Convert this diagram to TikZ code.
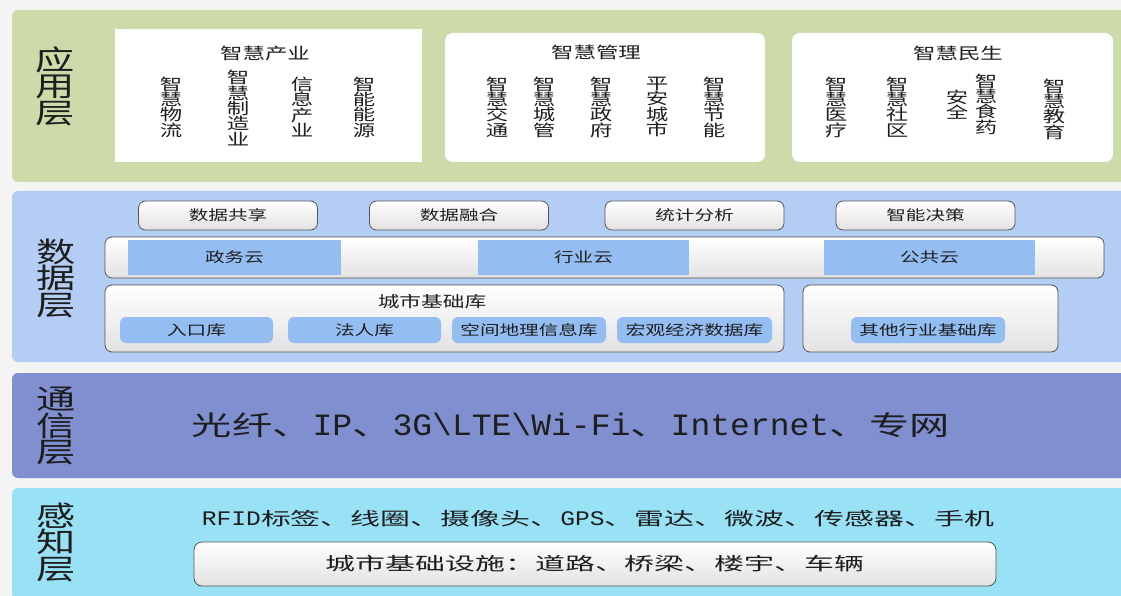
\documentclass[tikz,border=0pt]{standalone}
\usepackage{fontspec}
\usepackage{graphicx}
\setmainfont[FakeStretch=1.4]{Noto Sans CJK SC}
\newfontfamily\latmono[Scale=1.15]{Liberation Mono}
\lineskiplimit=-50pt
\definecolor{bgc}{HTML}{F4F4F4}
\definecolor{grn}{HTML}{CCDBA9}
\definecolor{dat}{HTML}{B4CDF4}
\definecolor{blu}{HTML}{94BDF2}
\definecolor{com}{HTML}{7F8FD0}
\definecolor{sen}{HTML}{99E1F5}
\definecolor{bord}{HTML}{555555}
\definecolor{btm}{HTML}{E2E2E2}
\definecolor{txt}{HTML}{1E1E1E}
\begin{document}
\begin{tikzpicture}[x=1pt,y=-1pt,
  every node/.style={text=txt},
  band/.style={rounded corners=6pt, inner sep=0, outer sep=0, draw=none},
  lbl/.style={font=\fontsize{28}{26.5}\selectfont, align=center, inner sep=0},
  ttl/.style={font=\fontsize{16}{16}\selectfont, inner sep=0},
  vt/.style={font=\fontsize{16}{15.3}\selectfont, align=center, inner sep=0},
  appbox/.style={fill=white, draw=none, inner sep=0},
  gbox/.style={draw=bord, line width=0.8pt, rounded corners=7pt, top color=white, bottom color=btm, inner sep=0},
  btn/.style={gbox, minimum width=179, minimum height=29, font=\fontsize{14}{14}\selectfont},
  bluebox/.style={fill=blu, draw=none, inner sep=0, minimum height=35, font=\fontsize{14}{14}\selectfont},
  dbbox/.style={fill=blu, draw=none, rounded corners=6pt, inner sep=0, minimum height=26, font=\fontsize{14}{14}\selectfont}
]
\useasboundingbox (0,0) rectangle (1121,596);
\fill[bgc] (0,0) rectangle (1121,596);

% bands
\node[band, fill=grn, minimum width=1118, minimum height=172] (b1) at (571,96) {};
\node[band, fill=dat, minimum width=1118, minimum height=171] (b2) at (571,276.5) {};
\node[band, fill=com, minimum width=1118, minimum height=105] (b3) at (571,425.5) {};
\node[band, fill=sen, minimum width=1118, minimum height=112] (b4) at (571,544) {};

% layer labels
\node[lbl] (l1) at (55,86) {应\\用\\层};
\node[lbl] (l2) at (56,278) {数\\据\\层};
\node[lbl] (l3) at (56,426) {通\\信\\层};
\node[lbl] (l4) at (56,542) {感\\知\\层};

% application boxes
\node[appbox, minimum width=307, minimum height=133] (a1) at (268.5,95.5) {};
\node[appbox, rounded corners=8pt, minimum width=320, minimum height=129] (a2) at (605,97.5) {};
\node[appbox, rounded corners=8pt, minimum width=321, minimum height=129] (a3) at (952.5,97.5) {};
\node[ttl] (t1) at (265,53) {智慧产业};
\node[ttl] (t2) at (596,52) {智慧管理};
\node[ttl] (t3) at (958,53) {智慧民生};

\node[vt] (v11) at (171,107) {智\\慧\\物\\流};
\node[vt] (v12) at (238,108) {智\\慧\\制\\造\\业};
\node[vt] (v13) at (302,107) {信\\息\\产\\业};
\node[vt] (v14) at (364,107) {智\\能\\能\\源};

\node[vt] (v21) at (497,107) {智\\慧\\交\\通};
\node[vt] (v22) at (544,107) {智\\慧\\城\\管};
\node[vt] (v23) at (601,107) {智\\慧\\政\\府};
\node[vt] (v24) at (657,107) {平\\安\\城\\市};
\node[vt] (v25) at (714,107) {智\\慧\\节\\能};

\node[vt] (v31) at (836,107) {智\\慧\\医\\疗};
\node[vt] (v32) at (897,107) {智\\慧\\社\\区};
\node[vt] (v33) at (957,105) {安\\全};
\node[vt] (v34) at (986,104) {智\\慧\\食\\药};
\node[vt] (v35) at (1054,109) {智\\慧\\教\\育};

% data layer
\node[btn] (d1) at (228,215.5) {数据共享};
\node[btn] (d2) at (459,215.5) {数据融合};
\node[btn] (d3) at (694.5,215.5) {统计分析};
\node[btn] (d4) at (925.5,215.5) {智能决策};

\node[gbox, minimum width=999, minimum height=41] (cloud) at (604.5,257.5) {};
\node[bluebox, minimum width=213] (c1) at (234.5,257.5) {政务云};
\node[bluebox, minimum width=211] (c2) at (583.5,257.5) {行业云};
\node[bluebox, minimum width=211] (c3) at (929.5,257.5) {公共云};

\node[gbox, minimum width=679, minimum height=67] (city) at (444.5,318.5) {};
\node[font=\fontsize{15.5}{15.5}\selectfont, inner sep=0] (cityt) at (432,302) {城市基础库};
\node[dbbox, minimum width=153] (db1) at (196.5,330) {入口库};
\node[dbbox, minimum width=153] (db2) at (364.5,330) {法人库};
\node[dbbox, minimum width=154] (db3) at (529,330) {空间地理信息库};
\node[dbbox, minimum width=155] (db4) at (694.5,330) {宏观经济数据库};

\node[gbox, minimum width=255, minimum height=67] (other) at (930.5,318.5) {};
\node[dbbox, minimum width=154] (db5) at (928,330) {其他行业基础库};

% communication layer
\node[font=\fontsize{27}{27}\selectfont, inner sep=0] (comm) at (571,425)
  {\resizebox{758pt}{\height}{光纤、{\latmono IP}、{\latmono 3G\textbackslash LTE\textbackslash Wi-Fi}、{\latmono Internet}、专网}};

% perception layer
\node[font=\fontsize{18}{18}\selectfont, inner sep=0] (sense) at (598,519)
  {\resizebox{792pt}{\height}{{\latmono RFID}标签、线圈、摄像头、{\latmono GPS}、雷达、微波、传感器、手机}};
\node[gbox, rounded corners=8pt, minimum width=802, minimum height=44, font=\fontsize{18}{18}\selectfont] (infra) at (595,564)
  {\resizebox{539pt}{\height}{城市基础设施：道路、桥梁、楼宇、车辆}};
\end{tikzpicture}
\end{document}
